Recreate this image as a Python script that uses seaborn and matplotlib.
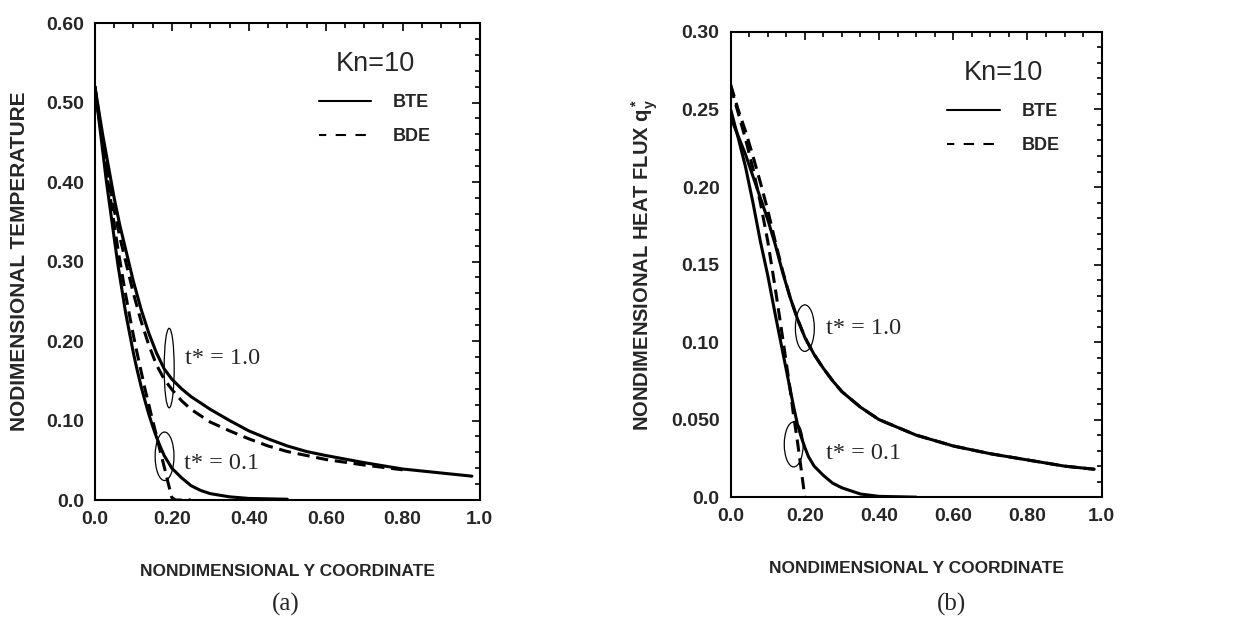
import matplotlib
matplotlib.use('Agg')

import matplotlib.pyplot as plt
import seaborn as sns
from matplotlib.patches import Ellipse
from matplotlib.ticker import MultipleLocator, FixedLocator

# ---- data (Kn=10) ----
# (a) nondimensional temperature, t* = 1.0
temp_x_t1 = [0.0, 0.01, 0.02, 0.035, 0.05, 0.065, 0.08, 0.10, 0.12, 0.14, 0.16,
             0.18, 0.20, 0.225, 0.25, 0.30, 0.35, 0.40, 0.45, 0.50, 0.55, 0.60,
             0.70, 0.80, 0.90, 0.98]
temp_bte_t1 = [0.52, 0.49, 0.46, 0.42, 0.38, 0.345, 0.315, 0.275, 0.24, 0.21,
               0.185, 0.165, 0.152, 0.14, 0.13, 0.114, 0.100, 0.087, 0.077,
               0.068, 0.061, 0.056, 0.047, 0.039, 0.034, 0.030]
temp_x_bde_t1 = [0.0, 0.01, 0.02, 0.035, 0.05, 0.065, 0.08, 0.10, 0.12, 0.14,
                 0.16, 0.18, 0.20, 0.225, 0.25, 0.30, 0.35, 0.40, 0.45, 0.50,
                 0.60, 0.70, 0.80]
temp_bde_t1 = [0.515, 0.483, 0.45, 0.405, 0.365, 0.33, 0.30, 0.26, 0.225, 0.195,
               0.17, 0.152, 0.139, 0.125, 0.114, 0.098, 0.087, 0.077, 0.068,
               0.061, 0.051, 0.044, 0.038]

# (a) t* = 0.1
temp_x_t01 = [0.0, 0.01, 0.02, 0.03, 0.04, 0.05, 0.06, 0.07, 0.08, 0.09, 0.10,
              0.11, 0.12, 0.13, 0.14, 0.15, 0.16, 0.17, 0.18, 0.19, 0.20, 0.225,
              0.25, 0.275, 0.30, 0.35, 0.40, 0.50]
temp_bte_t01 = [0.52, 0.48, 0.44, 0.40, 0.365, 0.33, 0.295, 0.265, 0.235, 0.21,
                0.185, 0.163, 0.143, 0.125, 0.108, 0.093, 0.079, 0.067, 0.056,
                0.048, 0.040, 0.028, 0.018, 0.012, 0.008, 0.004, 0.002, 0.001]
temp_x_bde_t01 = [0.0, 0.01, 0.02, 0.03, 0.04, 0.05, 0.06, 0.07, 0.08, 0.09,
                  0.10, 0.11, 0.12, 0.13, 0.14, 0.15, 0.16, 0.17, 0.18, 0.19,
                  0.20, 0.21, 0.25]
temp_bde_t01 = [0.52, 0.485, 0.45, 0.415, 0.38, 0.347, 0.315, 0.286, 0.258,
                0.232, 0.207, 0.184, 0.162, 0.14, 0.12, 0.10, 0.081, 0.061,
                0.042, 0.022, 0.003, 0.0, 0.0]

# (b) nondimensional heat flux, t* = 1.0
flux_x_t1 = [0.0, 0.02, 0.04, 0.06, 0.08, 0.10, 0.12, 0.14, 0.16, 0.18, 0.20,
             0.225, 0.25, 0.275, 0.30, 0.35, 0.40, 0.45, 0.50, 0.60, 0.70, 0.80,
             0.90, 0.98]
flux_bte_t1 = [0.245, 0.233, 0.221, 0.207, 0.193, 0.179, 0.163, 0.145, 0.129,
               0.115, 0.103, 0.092, 0.083, 0.075, 0.068, 0.058, 0.050, 0.045,
               0.040, 0.033, 0.028, 0.024, 0.020, 0.018]
flux_bde_t1 = [0.266, 0.25, 0.236, 0.22, 0.203, 0.185, 0.165, 0.146, 0.129,
               0.115, 0.103, 0.092, 0.083, 0.075, 0.068, 0.058, 0.050, 0.045,
               0.040, 0.033, 0.028, 0.024, 0.020, 0.018]

# (b) t* = 0.1
flux_x_t01 = [0.0, 0.02, 0.04, 0.06, 0.08, 0.10, 0.12, 0.14, 0.16, 0.17, 0.18,
              0.19, 0.20, 0.21, 0.225, 0.25, 0.275, 0.30, 0.35, 0.40, 0.50]
flux_bte_t01 = [0.25, 0.232, 0.213, 0.19, 0.165, 0.143, 0.118, 0.094, 0.07,
                0.058, 0.047, 0.039, 0.032, 0.026, 0.020, 0.014, 0.009, 0.006,
                0.002, 0.0005, 0.0]
flux_x_bde_t01 = [0.0, 0.02, 0.04, 0.06, 0.08, 0.10, 0.12, 0.14, 0.16, 0.17,
                  0.18, 0.19, 0.20]
flux_bde_t01 = [0.265, 0.248, 0.231, 0.212, 0.19, 0.165, 0.135, 0.103, 0.07,
                0.052, 0.036, 0.018, 0.0]

xticks = [0.0, 0.2, 0.4, 0.6, 0.8, 1.0]
xtick_labels = ['0.0', '0.20', '0.40', '0.60', '0.80', '1.0']
temp_yticks = [0.0, 0.1, 0.2, 0.3, 0.4, 0.5, 0.6]
temp_ytick_labels = ['0.0', '0.10', '0.20', '0.30', '0.40', '0.50', '0.60']
flux_yticks = [0.0, 0.05, 0.10, 0.15, 0.20, 0.25, 0.30]
flux_ytick_labels = ['0.0', '0.050', '0.10', '0.15', '0.20', '0.25', '0.30']

sns.set_theme(style='white')
plt.rcParams['font.family'] = ['Liberation Sans', 'DejaVu Sans']
plt.rcParams['mathtext.fontset'] = 'custom'
plt.rcParams['mathtext.rm'] = 'Liberation Sans'
plt.rcParams['mathtext.bf'] = 'Liberation Sans:bold'

DASH = (0, (4, 2.2))
LW = 2.2

fig = plt.figure(figsize=(12.49, 6.39), dpi=100)
ax1 = fig.add_axes([0.076, 0.2175, 0.308, 0.7465])
ax2 = fig.add_axes([0.585, 0.222, 0.297, 0.728])


def style_axes(ax, ymax, yticks, ylabels, yminor):
    ax.set_xlim(0, 1.0)
    ax.set_ylim(0, ymax)
    ax.xaxis.set_major_locator(FixedLocator(xticks))
    ax.set_xticklabels(xtick_labels)
    ax.yaxis.set_major_locator(FixedLocator(yticks))
    ax.set_yticklabels(ylabels)
    ax.xaxis.set_minor_locator(MultipleLocator(0.05))
    ax.yaxis.set_minor_locator(MultipleLocator(yminor))
    ax.tick_params(which='both', direction='in', top=True, right=True,
                   color='black', width=1.2)
    ax.tick_params(which='major', length=6, labelsize=14, pad=8)
    ax.tick_params(which='minor', length=3.5)
    for lab in ax.get_xticklabels() + ax.get_yticklabels():
        lab.set_fontweight('bold')
    for sp in ax.spines.values():
        sp.set_color('black')
        sp.set_linewidth(1.5)
    ax.set_xlabel('NONDIMENSIONAL Y COORDINATE', fontsize=12.5,
                  fontweight='bold', labelpad=26)


# ---- (a) temperature ----
sns.lineplot(x=temp_x_t1, y=temp_bte_t1, ax=ax1, color='black', lw=LW, label='BTE')
sns.lineplot(x=temp_x_bde_t1, y=temp_bde_t1, ax=ax1, color='black', lw=LW,
             linestyle=DASH, label='BDE')
sns.lineplot(x=temp_x_t01, y=temp_bte_t01, ax=ax1, color='black', lw=LW)
sns.lineplot(x=temp_x_bde_t01, y=temp_bde_t01, ax=ax1, color='black', lw=LW,
             linestyle=DASH)
style_axes(ax1, 0.6, temp_yticks, temp_ytick_labels, 0.02)
ax1.set_ylabel('NODIMENSIONAL TEMPERATURE', fontsize=15, fontweight='bold',
               labelpad=12)
ax1.add_patch(Ellipse((0.193, 0.166), 0.026, 0.10, fill=False, ec='black', lw=0.9))
ax1.add_patch(Ellipse((0.181, 0.055), 0.049, 0.061, fill=False, ec='black', lw=0.9))
ax1.text(0.235, 0.178, 't* = 1.0', family='Liberation Serif', fontsize=17.5,
         va='center', ha='left')
ax1.text(0.232, 0.046, 't* = 0.1', family='Liberation Serif', fontsize=17.5,
         va='center', ha='left')

# ---- (b) heat flux ----
sns.lineplot(x=flux_x_t1, y=flux_bte_t1, ax=ax2, color='black', lw=LW, label='BTE')
sns.lineplot(x=flux_x_t1, y=flux_bde_t1, ax=ax2, color='black', lw=LW,
             linestyle=DASH, label='BDE')
sns.lineplot(x=flux_x_t01, y=flux_bte_t01, ax=ax2, color='black', lw=LW)
sns.lineplot(x=flux_x_bde_t01, y=flux_bde_t01, ax=ax2, color='black', lw=LW,
             linestyle=DASH)
style_axes(ax2, 0.3, flux_yticks, flux_ytick_labels, 0.01)
ax2.set_ylabel(r'NONDIMENSIONAL HEAT FLUX $\mathbf{q_y^*}$', fontsize=14.5,
               fontweight='bold', labelpad=8)
ax2.add_patch(Ellipse((0.20, 0.109), 0.051, 0.030, fill=False, ec='black', lw=0.9))
ax2.add_patch(Ellipse((0.17, 0.034), 0.051, 0.029, fill=False, ec='black', lw=0.9))
ax2.text(0.258, 0.109, 't* = 1.0', family='Liberation Serif', fontsize=17.5,
         va='center', ha='left')
ax2.text(0.258, 0.028, 't* = 0.1', family='Liberation Serif', fontsize=17.5,
         va='center', ha='left')

for ax in (ax1, ax2):
    leg = ax.legend(title='Kn=10', loc='upper left', bbox_to_anchor=(0.54, 0.975),
                    frameon=False, handlelength=2.9, handletextpad=1.2,
                    labelspacing=0.95, prop={'weight': 'bold', 'size': 13})
    leg.get_title().set_fontsize(19.5)
    solid_h, dash_h = leg.get_lines()
    solid_h.set_linewidth(1.5)
    dash_h.set_linewidth(1.5)
    dash_h.set_linestyle((1.5, (5, 4.5)))

fig.text(0.2285, 0.045, '(a)', family='Liberation Serif', fontsize=18, ha='center')
fig.text(0.762, 0.045, '(b)', family='Liberation Serif', fontsize=18, ha='center')

fig.savefig('out.png', dpi=100, facecolor='white')
